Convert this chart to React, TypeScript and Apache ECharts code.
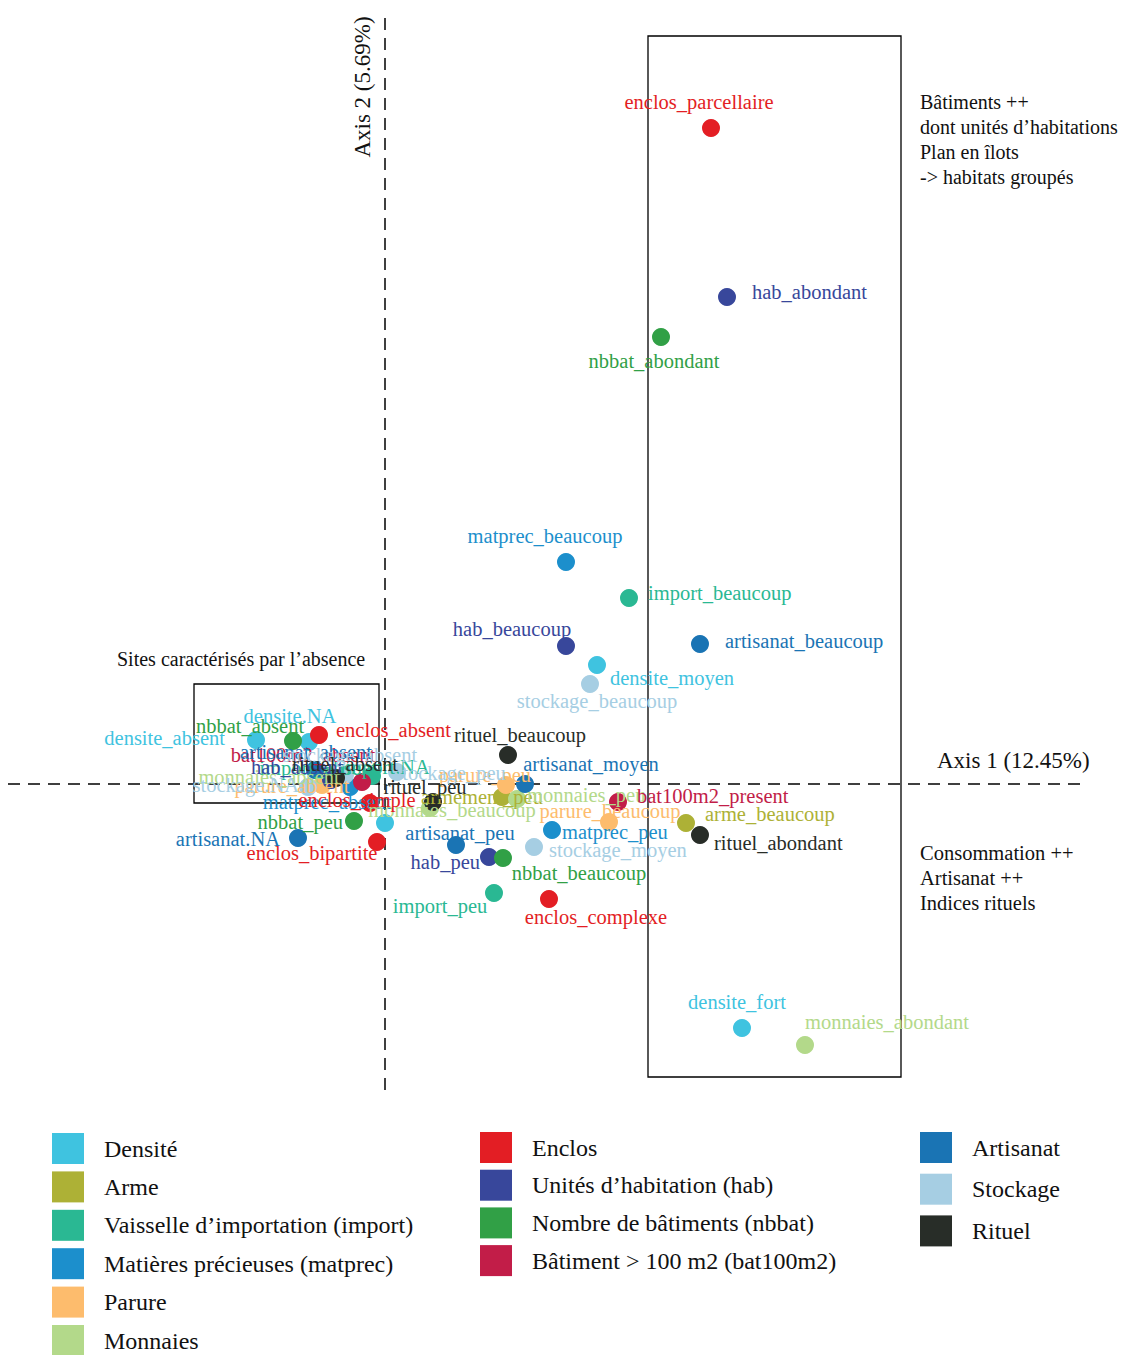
import React, { useEffect, useRef } from "react";
import * as echarts from "echarts";

type Pt = [string, number, number];

const FONT = "'Liberation Serif', 'DejaVu Serif', serif";

// Legend categories
const categories = [
  "Densité",
  "Arme",
  "Vaisselle d’importation (import)",
  "Matières précieuses (matprec)",
  "Parure",
  "Monnaies",
  "Enclos",
  "Unités d’habitation (hab)",
  "Nombre de bâtiments (nbbat)",
  "Bâtiment > 100 m2 (bat100m2)",
  "Artisanat",
  "Stockage",
  "Rituel",
];

const colors = [
  "#3FC3E0", "#ADB136", "#2AB893", "#1C8FCC", "#FDBC6D", "#B3D98A",
  "#E31E24", "#38479B", "#31A046", "#C21D48",
  "#1A74B4", "#A6CEE3", "#282D28",
];

// Modality coordinates [name, Dim 1, Dim 2]
const densite: Pt[] = [
  ["densite_absent", -1.29, 0.44],
  ["densite.NA", -0.76, 0.42],
  ["densite_faible", 0.0, -0.39],
  ["densite_moyen", 2.12, 1.19],
  ["densite_fort", 3.57, -2.44],
];
const arme: Pt[] = [
  ["armement_peu", 1.17, -0.13],
  ["arme_beaucoup", 3.01, -0.39],
];
const importV: Pt[] = [
  ["import_absent", -0.58, 0.08],
  ["import.NA", -0.13, 0.08],
  ["import_peu", 1.09, -1.09],
  ["import_beaucoup", 2.44, 1.86],
];
const matprec: Pt[] = [
  ["matprec_absent", -0.35, -0.03],
  ["matprec_peu", 1.67, -0.46],
  ["matprec_beaucoup", 1.81, 2.22],
];
const parure: Pt[] = [
  ["parure_absent", -0.63, -0.01],
  ["parure_peu", 1.21, -0.01],
  ["parure_beaucoup", 2.24, -0.38],
];
const monnaies: Pt[] = [
  ["monnaies_absent", -0.54, 0.07],
  ["monnaies_peu", 1.32, -0.15],
  ["monnaies_beaucoup", 0.45, -0.24],
  ["monnaies_abondant", 4.2, -2.61],
];
const enclos: Pt[] = [
  ["enclos_absent", -0.66, 0.49],
  ["enclos_simple", -0.15, -0.19],
  ["enclos_bipartite", -0.08, -0.58],
  ["enclos_complexe", 1.64, -1.15],
  ["enclos_parcellaire", 3.26, 6.56],
];
const hab: Pt[] = [
  ["hab_absent", -0.54, 0.04],
  ["hab_peu", 1.04, -0.73],
  ["hab_beaucoup", 1.81, 1.38],
  ["hab_abondant", 3.42, 4.87],
];
const nbbat: Pt[] = [
  ["nbbat_absent", -0.92, 0.43],
  ["nbbat_peu", -0.31, -0.37],
  ["nbbat_beaucoup", 1.18, -0.74],
  ["nbbat_abondant", 2.76, 4.47],
];
const bat100: Pt[] = [
  ["bat100m2_absent", -0.23, 0.02],
  ["bat100m2_present", 2.33, -0.18],
];
const artisanat: Pt[] = [
  ["artisanat.NA", -0.87, -0.54],
  ["artisanat_absent", -0.7, 0.14],
  ["artisanat_peu", 0.71, -0.61],
  ["artisanat_moyen", 1.4, 0.0],
  ["artisanat_beaucoup", 3.15, 1.4],
];
const stockage: Pt[] = [
  ["stockage.NA", -0.77, -0.03],
  ["stockage_absent", -0.4, 0.09],
  ["stockage_peu", 0.12, 0.12],
  ["stockage_moyen", 1.49, -0.63],
  ["stockage_beaucoup", 2.05, 1.0],
];
const rituel: Pt[] = [
  ["rituel_absent", -0.49, 0.06],
  ["rituel_peu", 0.48, -0.18],
  ["rituel_beaucoup", 1.23, 0.29],
  ["rituel_abondant", 3.15, -0.51],
];

const groups: Pt[][] = [
  densite, arme, importV, matprec, parure, monnaies,
  enclos, hab, nbbat, bat100, artisanat, stockage, rituel,
];

// Label placement: mode c = centered with offset, r = right, l = left (distance, dy)
const labelPlace: Record<string, [string, number, number]> = {
  densite_absent: ["l", 22, -2],
  "densite.NA": ["c", -19, -26],
  densite_moyen: ["r", 4, 13],
  densite_fort: ["c", -5, -26],
  armement_peu: ["c", -20, 0],
  arme_beaucoup: ["r", 10, -9],
  import_absent: ["c", -9, -8],
  "import.NA": ["c", 13, -9],
  import_peu: ["c", -54, 13],
  import_beaucoup: ["r", 10, -5],
  matprec_absent: ["c", -23, 15],
  matprec_peu: ["r", 1, 2],
  matprec_beaucoup: ["c", -21, -26],
  parure_absent: ["c", -30, 1],
  parure_peu: ["c", -21, -10],
  parure_beaucoup: ["c", 1, -11],
  monnaies_absent: ["c", -62, 0],
  monnaies_peu: ["r", 1, -4],
  monnaies_beaucoup: ["c", 22, 2],
  monnaies_abondant: ["c", 82, -23],
  enclos_absent: ["r", 8, -5],
  enclos_simple: ["c", -13, -3],
  enclos_bipartite: ["c", -65, 11],
  enclos_complexe: ["c", 47, 18],
  enclos_parcellaire: ["c", -12, -26],
  hab_absent: ["c", -34, -13],
  hab_peu: ["l", 0, 5],
  hab_beaucoup: ["c", -54, -17],
  hab_abondant: ["r", 16, -5],
  nbbat_absent: ["c", -43, -15],
  nbbat_peu: ["l", 2, 1],
  nbbat_beaucoup: ["c", 76, 15],
  nbbat_abondant: ["c", -7, 24],
  bat100m2_absent: ["c", -59, -27],
  bat100m2_present: ["r", 10, -6],
  "artisanat.NA": ["l", 9, 1],
  artisanat_absent: ["c", -9, -18],
  artisanat_peu: ["c", 4, -12],
  artisanat_moyen: ["c", 66, -20],
  artisanat_beaucoup: ["r", 16, -3],
  "stockage.NA": ["l", 0, -2],
  stockage_absent: ["c", 5, -20],
  stockage_peu: ["c", 53, 1],
  stockage_moyen: ["r", 6, 3],
  stockage_beaucoup: ["c", 7, 17],
  rituel_absent: ["c", 9, -14],
  rituel_peu: ["c", -8, -15],
  rituel_beaucoup: ["c", 12, -20],
  rituel_abondant: ["r", 5, 8],
};

const axis1Label = "Axis 1 (12.45%)";
const axis2Label = "Axis 2 (5.69%)";
const noteTop = ["Bâtiments ++", "dont unités d’habitations", "Plan en îlots", "-> habitats groupés"];
const noteBottom = ["Consommation ++", "Artisanat ++", "Indices rituels"];
const noteLeft = "Sites caractérisés par l’absence";

function buildLabel(name: string) {
  const p = labelPlace[name];
  if (!p) return { show: false };
  const [mode, a, b] = p;
  if (mode === "c")
    return { show: true, position: "inside", align: "center", verticalAlign: "middle", offset: [a, b] };
  if (mode === "r") return { show: true, position: "right", distance: a, offset: [0, b] };
  return { show: true, position: "left", distance: a, offset: [0, b] };
}

export default function App() {
  const ref = useRef<HTMLDivElement>(null);
  useEffect(() => {
    if (!ref.current) return;
    const chart = echarts.init(ref.current, undefined, { renderer: "svg" });

    const series: any[] = groups.map((g, i) => ({
      type: "scatter",
      name: categories[i],
      symbol: "circle",
      symbolSize: 18,
      itemStyle: { color: colors[i], opacity: 1 },
      label: {
        color: colors[i],
        fontFamily: FONT,
        fontSize: 20.5,
        formatter: (p: any) => p.name,
      },
      emphasis: { disabled: true },
      data: g.map(([n, x, y]) => ({ name: n, value: [x, y], label: buildLabel(n) })),
      z: 3,
    }));
    series[0].markLine = {
      silent: true,
      symbol: "none",
      label: { show: false },
      lineStyle: { color: "#000", type: [12, 8], width: 1.5 },
      data: [{ xAxis: 0 }, { yAxis: 0 }],
      z: 1,
    };

    const legendBase = {
      orient: "vertical",
      icon: "rect",
      itemWidth: 32,
      itemHeight: 31,
      padding: 0,
      height: 240,
      selectedMode: false,
      textStyle: { fontFamily: FONT, fontSize: 24, color: "#111", padding: [5, 0, 0, 15] },
    };

    const textEl = (text: string, x: number, y: number, extra: any = {}) => ({
      type: "text",
      x,
      y,
      silent: true,
      style: {
        text,
        font: `20px ${FONT}`,
        fill: "#111",
        align: "left",
        verticalAlign: "middle",
        ...extra,
      },
    });

    chart.setOption({
      animation: false,
      backgroundColor: "#fff",
      grid: { left: 8, top: 14, width: 1080, height: 1076 },
      xAxis: { type: "value", min: -3.77, max: 7.03, show: false },
      yAxis: { type: "value", min: -3.06, max: 7.7, show: false },
      tooltip: { show: false },
      legend: [
        { ...legendBase, left: 52, top: 1133, itemGap: 7.4, data: categories.slice(0, 6) },
        { ...legendBase, left: 480, top: 1132, itemGap: 6.7, data: categories.slice(6, 10) },
        { ...legendBase, left: 920, top: 1132, itemGap: 10.7, data: categories.slice(10) },
      ],
      graphic: [
        {
          type: "rect",
          silent: true,
          shape: { x: 648, y: 36, width: 253, height: 1041 },
          style: { fill: "none", stroke: "#000", lineWidth: 1.3 },
        },
        {
          type: "rect",
          silent: true,
          shape: { x: 194, y: 684, width: 185, height: 119 },
          style: { fill: "none", stroke: "#000", lineWidth: 1.3 },
        },
        textEl(axis1Label, 937, 760, { font: `23px ${FONT}` }),
        {
          type: "text",
          x: 362,
          y: 87,
          rotation: Math.PI / 2,
          silent: true,
          style: {
            text: axis2Label,
            font: `23px ${FONT}`,
            fill: "#111",
            align: "center",
            verticalAlign: "middle",
          },
        },
        textEl(noteLeft, 117, 659),
        ...noteTop.map((t, i) => textEl(t, 920, 102 + i * 25)),
        ...noteBottom.map((t, i) => textEl(t, 920, 853 + i * 25, { font: `20.5px ${FONT}` })),
      ],
      series,
    });
    return () => chart.dispose();
  }, []);
  return (
    <div
      ref={ref}
      style={{ position: "absolute", left: 0, top: 0, width: 1121, height: 1355 }}
    />
  );
}
